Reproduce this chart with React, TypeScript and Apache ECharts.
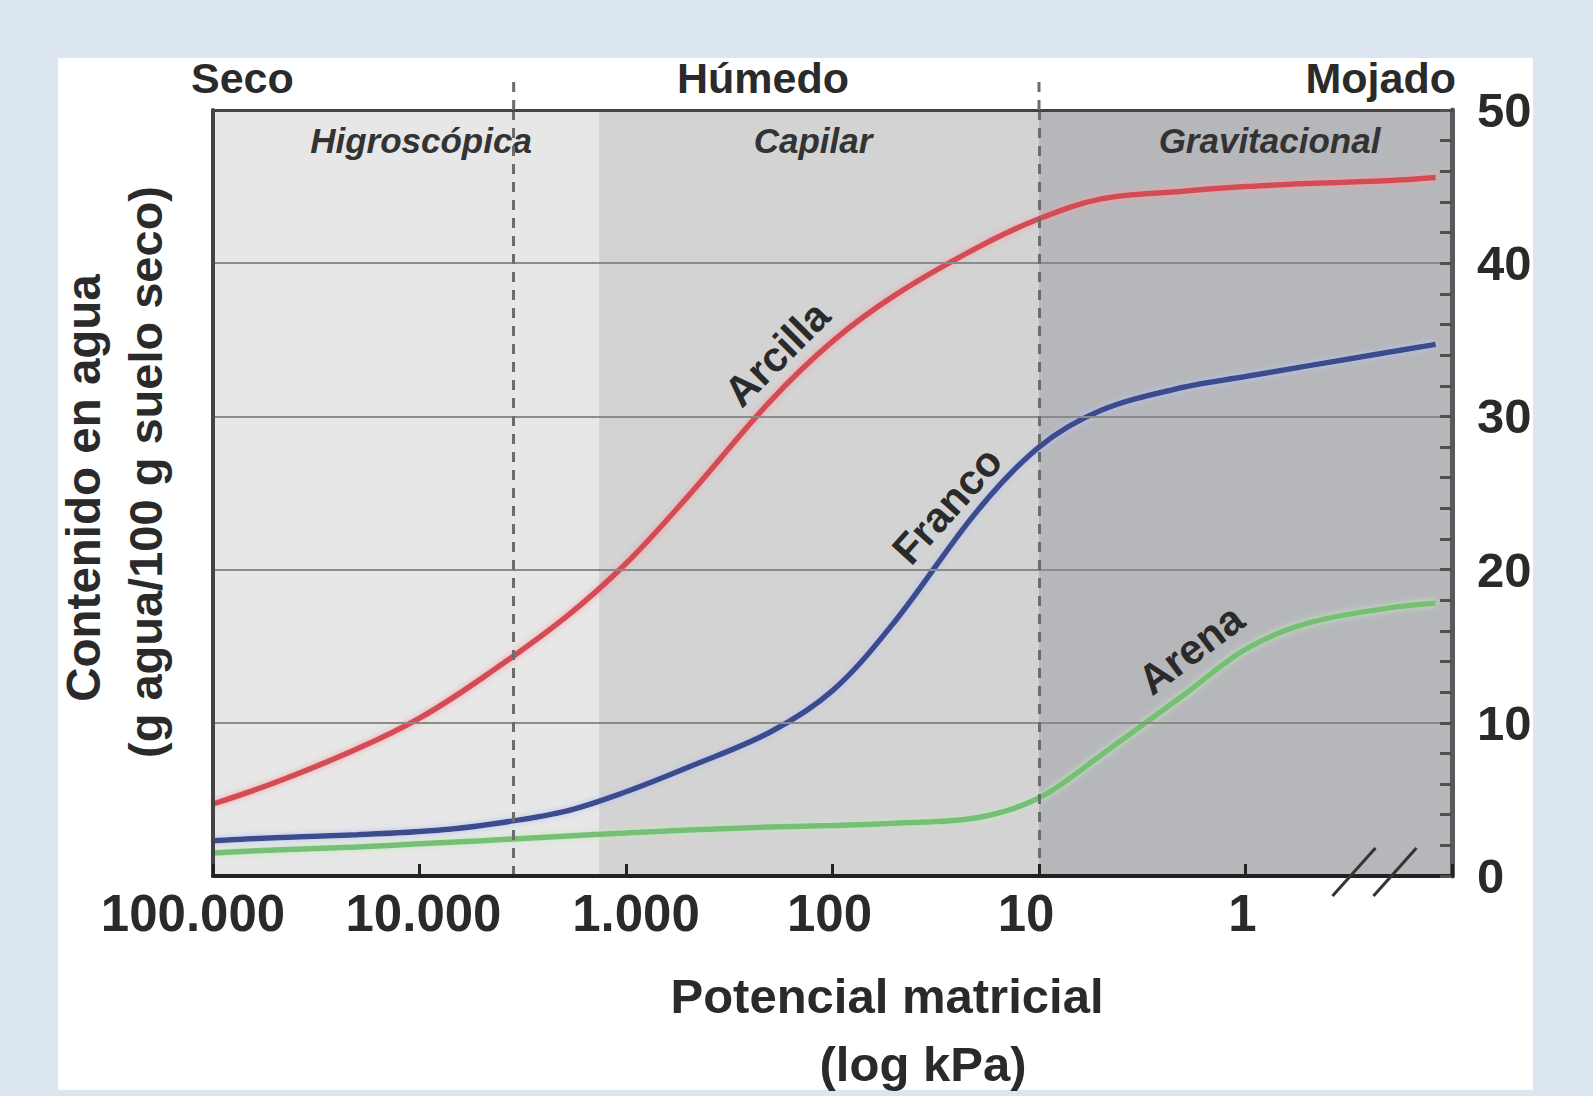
import React, { useEffect, useRef } from "react";
import * as echarts from "echarts";

// ---- data ----
const potentialKPa = [100000, 50000, 20000, 10000, 5000, 2000, 1000, 500, 200, 100, 50, 20, 10, 5, 2, 1, 0.5, 0.2, 0.12];
const arcilla = [4.7, 6.1, 8.3, 10.3, 12.9, 16.8, 20.4, 24.8, 31.0, 34.9, 37.9, 41.0, 42.9, 44.2, 44.7, 45.0, 45.2, 45.4, 45.6];
const franco = [2.3, 2.5, 2.7, 2.9, 3.3, 4.2, 5.5, 7.1, 9.4, 12.1, 16.6, 23.8, 28.0, 30.4, 31.9, 32.6, 33.3, 34.2, 34.7];
const arena = [1.5, 1.7, 1.9, 2.1, 2.3, 2.6, 2.8, 3.0, 3.2, 3.3, 3.45, 3.8, 5.1, 7.9, 11.8, 14.8, 16.5, 17.5, 17.8];

const seriesNames = ["Arcilla", "Franco", "Arena"];
const seriesColors = ["#d24c55", "#3b4b8e", "#74c074"];
const seriesGlow = ["#f4a3a6", "#b9c3ee", "#c4e8bf"];
const labelAnchors = [
  [186, 34.1],
  [27.9, 24.2],
  [1.84, 14.8],
];
const labelAngles = [45, 48, 37];

const xTickValues = [100000, 10000, 1000, 100, 10, 1];
const xTickLabels = ["100.000", "10.000", "1.000", "100", "10", "1"];
const xTickLabelShift = [-20, 4, 10, -3, -13, -3];
const yTicks = [0, 10, 20, 30, 40, 50];

const zoneNames = ["Higroscópica", "Capilar", "Gravitacional"];
const zoneBounds = [100000, 1350, 10, 0.1];
const zoneColors = ["#e7e7e7", "#d3d3d3", "#b6b7bb"];
const zoneLabelShift = [15, -6, 24];

const moistureNames = ["Seco", "Húmedo", "Mojado"];
const dashedAt = [3500, 10];
const breakAt = [0.3, 0.19];

const FONT = '"Liberation Sans", Arial, Helvetica, sans-serif';
const INK = "#2a2a2a";

export default function App() {
  const ref = useRef<HTMLDivElement>(null);

  useEffect(() => {
    if (!ref.current) return;
    const chart = echarts.init(ref.current, null, { renderer: "svg" });

    const curveSeries = [arcilla, franco, arena].map((vals, s) => ({
      type: "line",
      name: seriesNames[s],
      z: 3,
      data: potentialKPa.map((x, i) => [x, vals[i]]),
      showSymbol: false,
      smooth: 0.35,
      silent: true,
      lineStyle: {
        width: 5.5,
        color: seriesColors[s],
        shadowColor: seriesGlow[s],
        shadowBlur: 6,
      },
      markPoint: {
        silent: true,
        symbol: "circle",
        symbolSize: 0,
        label: {
          show: true,
          position: "inside",
          formatter: seriesNames[s],
          rotate: labelAngles[s],
          fontSize: 42,
          fontWeight: "bold",
          fontFamily: FONT,
          color: INK,
        },
        data: [{ coord: labelAnchors[s] }],
      },
    }));

    const axisCommon = { z: 10, silent: true };

    const richTicks: any = {};
    xTickLabels.forEach((_, i) => {
      const s = xTickLabelShift[i];
      richTicks["t" + i] = {
        fontSize: 51,
        fontWeight: "bold",
        fontFamily: FONT,
        color: INK,
        padding: s < 0 ? [0, -2 * s, 0, 0] : [0, 0, 0, 2 * s],
      };
    });

    const option: any = {
      animation: false,
      backgroundColor: "#dce6f1",
      grid: { left: 213, right: 141, top: 110, bottom: 220, containLabel: false },
      xAxis: [
        {
          ...axisCommon,
          type: "log",
          logBase: 10,
          min: 0.1,
          max: 100000,
          inverse: true,
          splitNumber: 6,
          position: "bottom",
          axisLine: { show: true, onZero: false, lineStyle: { color: "#222", width: 4 } },
          axisTick: { show: true, inside: true, length: 12, lineStyle: { color: "#222", width: 3 } },
          minorTick: { show: false },
          splitLine: { show: false },
          axisLabel: {
            margin: 12,
            fontSize: 51,
            fontWeight: "bold",
            fontFamily: FONT,
            color: INK,
            rich: richTicks,
            formatter: (v: number) => {
              const idx = xTickValues.findIndex((t) => Math.abs(Math.log10(t) - Math.log10(v)) < 0.01);
              return idx >= 0 ? "{t" + idx + "|" + xTickLabels[idx] + "}" : "";
            },
          },
        },
        {
          ...axisCommon,
          type: "log",
          logBase: 10,
          min: 0.1,
          max: 100000,
          inverse: true,
          position: "top",
          axisLine: { show: true, onZero: false, lineStyle: { color: "#444", width: 3 } },
          axisTick: { show: false },
          axisLabel: { show: false },
          splitLine: { show: false },
        },
      ],
      yAxis: [
        {
          ...axisCommon,
          type: "value",
          min: yTicks[0],
          max: yTicks[yTicks.length - 1],
          interval: 10,
          position: "right",
          axisLine: { show: true, onZero: false, lineStyle: { color: "#5a5a5a", width: 5 } },
          axisTick: { show: true, inside: true, length: 12, lineStyle: { color: "#505050", width: 3 } },
          minorTick: { show: true, splitNumber: 5, length: 12, lineStyle: { color: "#505050", width: 3 } },
          splitLine: { show: false },
          axisLabel: {
            margin: 25,
            fontSize: 49,
            fontWeight: "bold",
            fontFamily: FONT,
            color: INK,
            formatter: (v: number) => (yTicks.includes(v) ? String(v) : ""),
          },
        },
        {
          ...axisCommon,
          type: "value",
          min: 0,
          max: 50,
          position: "left",
          axisLine: { show: true, onZero: false, lineStyle: { color: "#444", width: 4 } },
          axisTick: { show: false },
          axisLabel: { show: false },
          splitLine: { show: false },
        },
      ],
      series: [
        {
          type: "line",
          z: 1,
          silent: true,
          data: [],
          markArea: {
            silent: true,
            data: zoneNames.map((n, i) => [
              {
                xAxis: zoneBounds[i],
                itemStyle: { color: zoneColors[i] },
                label: {
                  show: true,
                  formatter: n,
                  position: "insideTop",
                  offset: [zoneLabelShift[i], 8],
                  fontSize: 35,
                  fontWeight: "bold",
                  fontStyle: "italic",
                  fontFamily: FONT,
                  color: "#333",
                },
              },
              { xAxis: zoneBounds[i + 1] },
            ]),
          },
        },
        {
          type: "line",
          z: 2,
          silent: true,
          data: [],
          markLine: {
            silent: true,
            symbol: ["none", "none"],
            label: { show: false },
            data: [
              ...yTicks
                .filter((v) => v > yTicks[0] && v < yTicks[yTicks.length - 1])
                .map((v) => ({ yAxis: v, lineStyle: { color: "#8a8a8a", width: 2, type: "solid" } })),
              ...dashedAt.map((v) => ({ xAxis: v, lineStyle: { color: "#6c6c6c", width: 3, type: [10, 8] } })),
            ],
          },
        },
        ...curveSeries,
      ],
    };

    chart.setOption(option);

    const xPx = (v: number) => chart.convertToPixel({ xAxisIndex: 0 }, v) as number;
    const yPx = (v: number) => chart.convertToPixel({ yAxisIndex: 0 }, v) as number;
    const topPx = yPx(50);
    const bottomPx = yPx(0);
    const leftPx = xPx(100000);
    const rightPx = xPx(0.1);

    const textStyle = (text: string, size: number, align: string) => ({
      text,
      fill: INK,
      fontSize: size,
      fontWeight: "bold",
      fontFamily: FONT,
      align,
      verticalAlign: "middle",
    });

    const graphic: any[] = [
      {
        type: "rect",
        z: -100,
        silent: true,
        shape: { x: 58, y: 58, width: 1475, height: 1032 },
        style: { fill: "#ffffff" },
      },
      { type: "text", x: leftPx - 22, y: 78, z: 50, silent: true, style: textStyle(moistureNames[0], 43, "left") },
      { type: "text", x: 763, y: 78, z: 50, silent: true, style: textStyle(moistureNames[1], 43, "center") },
      { type: "text", x: rightPx + 4, y: 78, z: 50, silent: true, style: textStyle(moistureNames[2], 43, "right") },
      {
        type: "text",
        x: 83,
        y: 488,
        rotation: Math.PI / 2,
        z: 50,
        silent: true,
        style: textStyle("Contenido en agua", 47.5, "center"),
      },
      {
        type: "text",
        x: 145,
        y: 472,
        rotation: Math.PI / 2,
        z: 50,
        silent: true,
        style: textStyle("(g agua/100 g suelo seco)", 47, "center"),
      },
      { type: "text", x: 887, y: 996, z: 50, silent: true, style: textStyle("Potencial matricial", 49, "center") },
      { type: "text", x: 923, y: 1064, z: 50, silent: true, style: textStyle("(log kPa)", 49, "center") },
      ...dashedAt.map((v) => ({
        type: "line",
        z: 50,
        silent: true,
        shape: { x1: xPx(v), y1: 82, x2: xPx(v), y2: topPx },
        style: { stroke: "#6c6c6c", lineWidth: 3, lineDash: [10, 8] },
      })),
      ...breakAt.map((v) => ({
        type: "line",
        z: 100,
        silent: true,
        shape: { x1: xPx(v) - 21, y1: bottomPx + 20, x2: xPx(v) + 22, y2: bottomPx - 28 },
        style: { stroke: "#333", lineWidth: 3 },
      })),
    ];

    chart.setOption({ graphic });

    return () => chart.dispose();
  }, []);

  return <div ref={ref} style={{ position: "fixed", left: 0, top: 0, width: 1593, height: 1096 }} />;
}
